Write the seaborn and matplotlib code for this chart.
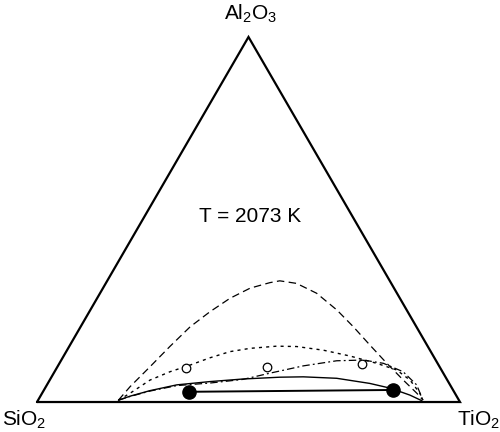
import numpy as np
import pandas as pd
import matplotlib
matplotlib.use("Agg")
import matplotlib.pyplot as plt
import seaborn as sns

sns.set_style("white")
plt.rcParams["font.family"] = ["Liberation Sans", "DejaVu Sans"]
plt.rcParams["text.color"] = "black"
plt.rcParams["mathtext.fontset"] = "custom"
plt.rcParams["mathtext.rm"] = "Liberation Sans"
plt.rcParams["mathtext.default"] = "regular"

# Mole fractions (x_TiO2, x_Al2O3) along each miscibility-gap boundary at 2073 K
dashed_ti = [0.190, 0.199, 0.219, 0.238, 0.259, 0.285, 0.314, 0.348, 0.387, 0.408,
             0.451, 0.512, 0.583, 0.645, 0.709, 0.774, 0.836, 0.886, 0.910]
dashed_al = [0.005, 0.042, 0.097, 0.152, 0.206, 0.247, 0.284, 0.312, 0.327, 0.332,
             0.325, 0.298, 0.252, 0.206, 0.156, 0.106, 0.060, 0.024, 0.005]

dotted_ti = [0.190, 0.208, 0.237, 0.273, 0.311, 0.348, 0.387, 0.430, 0.490, 0.538,
             0.606, 0.677, 0.750, 0.806, 0.852, 0.893, 0.910]
dotted_al = [0.005, 0.024, 0.060, 0.083, 0.101, 0.121, 0.138, 0.147, 0.153, 0.152,
             0.142, 0.126, 0.106, 0.088, 0.060, 0.024, 0.005]

dashdot_ti = [0.190, 0.212, 0.252, 0.308, 0.383, 0.456, 0.511, 0.580, 0.652, 0.714,
              0.766, 0.824, 0.874, 0.910]
dashdot_al = [0.005, 0.015, 0.030, 0.045, 0.052, 0.062, 0.079, 0.099, 0.113, 0.115,
              0.106, 0.083, 0.047, 0.005]

solid_ti = [0.190, 0.212, 0.251, 0.307, 0.381, 0.455, 0.540, 0.595, 0.676, 0.761,
            0.816, 0.872, 0.907]
solid_al = [0.005, 0.016, 0.031, 0.047, 0.056, 0.063, 0.068, 0.069, 0.065, 0.051,
            0.038, 0.019, 0.004]

# Experimental points
tie_ti = [0.345, 0.824]
tie_al = [0.028, 0.033]
open_ti = [0.305, 0.495, 0.716]
open_al = [0.094, 0.097, 0.104]

vertex_labels = [r"SiO$_2$", r"TiO$_2$", r"Al$_2$O$_3$"]
temperature_label = "T = 2073 K"

H = np.sqrt(3) / 2


def to_xy(ti, al):
    ti = np.asarray(ti, dtype=float)
    al = np.asarray(al, dtype=float)
    return ti + 0.5 * al, al * H


fig = plt.figure(figsize=(5.0, 4.32), dpi=100)
ax = fig.add_axes([0.074, 0.0694, 0.846, 0.845])
ax.set_xlim(0, 1)
ax.set_ylim(0, H)
ax.set_axis_off()

# Triangle frame
tx, ty = to_xy([0, 1, 0, 0], [0, 0, 1, 0])
ax.plot(tx, ty, color="black", lw=1.6, solid_joinstyle="miter", clip_on=False)

curves = [
    (dashed_ti, dashed_al, (0, (6, 3.5)), 0.9),
    (dotted_ti, dotted_al, (0, (2.2, 3)), 1.0),
    (dashdot_ti, dashdot_al, (0, (6, 2.5, 1.5, 2.5)), 0.9),
    (solid_ti, solid_al, "-", 1.0),
]
for ti, al, ls, lw in curves:
    x, y = to_xy(ti, al)
    df = pd.DataFrame({"x": x, "y": y})
    sns.lineplot(data=df, x="x", y="y", sort=False, estimator=None, ax=ax,
                 color="black", linestyle=ls, lw=lw)

# Tie line with its end compositions
x, y = to_xy(tie_ti, tie_al)
sns.lineplot(x=x, y=y, sort=False, estimator=None, ax=ax, color="black", lw=1.4)
ax.plot(x, y, "o", ms=9.5, mfc="black", mec="black", ls="none")

x, y = to_xy(open_ti, open_al)
sns.scatterplot(x=x, y=y, ax=ax, s=38, facecolor="white", edgecolor="black",
                linewidth=0.9, zorder=5)

ax.set_xlabel("")
ax.set_ylabel("")

fs = 15
ax.text(-0.030, -0.042, vertex_labels[0], ha="center", va="center", fontsize=fs,
        clip_on=False)
ax.text(1.043, -0.042, vertex_labels[1], ha="center", va="center", fontsize=fs,
        clip_on=False)
ax.text(0.504, 0.922, vertex_labels[2], ha="center", va="center", fontsize=fs,
        clip_on=False)
ax.text(0.504, 0.44, temperature_label, ha="center", va="center", fontsize=fs)

fig.savefig("out.png", dpi=100, facecolor="white")
